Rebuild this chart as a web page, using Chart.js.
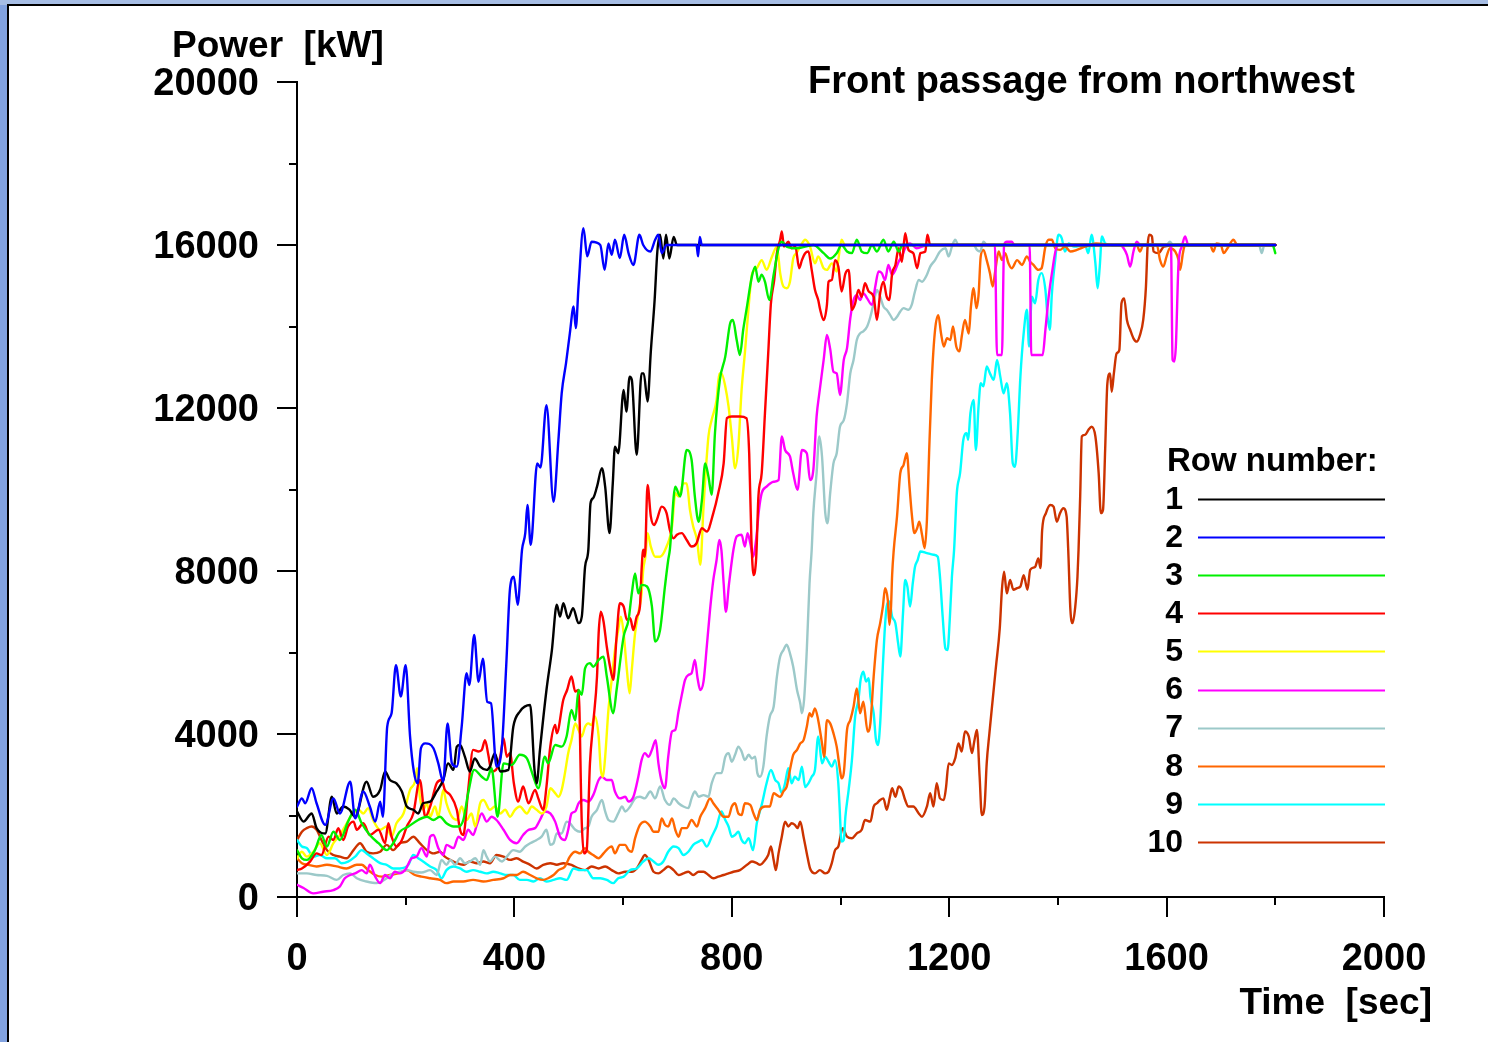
<!DOCTYPE html>
<html>
<head>
<meta charset="utf-8">
<title>Front passage from northwest</title>
<script src="https://cdn.jsdelivr.net/npm/chart.js@4.4.1/dist/chart.umd.min.js"></script>
<style>
  html, body { margin: 0; padding: 0; }
  body { width: 1488px; height: 1042px; background: #82a2df; position: relative; overflow: hidden; }
  #topStrip { position: absolute; left: 0; top: 0; width: 1488px; height: 5px; background: #a6bde4; }
  #sheet { position: absolute; left: 7px; top: 4px; right: 0; bottom: 0; background: #fff;
           border-left: 2px solid #000; border-top: 2px solid #000; }
  #chart { position: absolute; left: 0; top: 0; }
</style>
</head>
<body>
<div id="topStrip"></div>
<div id="sheet"></div>
<canvas id="chart" width="1488" height="1042"></canvas>
<script>
// Row data: [time (sec), power (kW)]
const row1 = [[0,2100],[12,1850],[27,2050],[36,1690],[52,1560],[64,2460],[73,2050],[85,2220],[96,2150],[107,1970],[128,2830],[140,2460],[153,2630],[162,3080],[171,2870],[183,2790],[193,2590],[202,2220],[214,2140],[223,2050],[232,2300],[245,2340],[257,2590],[269,2870],[278,3280],[288,3120],[294,3690],[300,3730],[309,3440],[318,3080],[327,3400],[337,3200],[349,3120],[355,3200],[364,3530],[374,3080],[389,3120],[398,4180],[410,4550],[429,4710],[437,3120],[441,2790],[447,3610],[459,5080],[469,6060],[478,7170],[484,6880],[490,7210],[499,6840],[508,7090],[518,6720],[524,6880],[530,8100],[536,8520],[540,9660],[545,9790],[552,10070],[561,10520],[567,10070],[575,8930],[581,10150],[585,11050],[591,10890],[601,12440],[606,11910],[612,12770],[616,12690],[625,10850],[634,12850],[638,12850],[645,12160],[651,13390],[658,14650],[663,15840],[668,16250],[674,15670],[679,16250],[685,15670],[693,16200],[699,16000],[1800,16000]];
const row2 = [[0,2220],[9,2420],[15,2300],[27,2670],[36,2300],[52,1770],[67,2420],[79,2050],[98,2830],[107,1930],[122,2590],[134,2220],[144,1850],[153,2340],[158,1970],[166,4180],[174,4510],[182,5690],[191,4920],[200,5690],[208,3940],[215,3080],[222,2790],[228,3650],[236,3770],[251,3650],[260,3280],[269,2830],[277,4260],[285,3280],[294,3200],[303,4180],[312,5490],[317,5200],[326,6430],[334,5280],[342,5850],[350,4790],[357,4750],[367,3200],[377,3690],[385,5690],[392,7580],[399,7860],[406,7170],[414,8520],[420,8930],[424,9620],[430,8640],[442,10640],[448,10540],[459,12070],[472,9700],[481,11220],[487,12360],[495,13100],[502,13830],[509,14490],[513,13960],[518,14980],[527,16410],[534,15720],[542,16080],[558,16000],[566,15390],[573,16040],[579,15760],[585,16130],[594,15680],[602,16250],[610,15800],[619,15510],[630,16250],[637,16000],[650,15840],[659,16130],[665,16250],[671,15800],[680,16000],[735,16000],[738,15720],[741,16200],[745,16000],[1800,16000]];
const row3 = [[0,1150],[9,950],[18,910],[33,1150],[45,1520],[55,1240],[67,1600],[79,1400],[94,1850],[107,2140],[119,1810],[134,1520],[150,1320],[165,1150],[177,1320],[189,1600],[205,1730],[223,1890],[239,1970],[251,1890],[263,1970],[275,1810],[288,1730],[297,1730],[306,1890],[315,2550],[326,3120],[340,2950],[349,2870],[358,3160],[369,1970],[380,3280],[395,3240],[410,3490],[423,3400],[435,2950],[444,2670],[456,3440],[462,3280],[475,3730],[487,3690],[496,3940],[505,4590],[512,4340],[518,5080],[524,4960],[530,5610],[539,5740],[545,5650],[555,5820],[564,5900],[570,5410],[582,4510],[588,5080],[601,6390],[610,6800],[616,7450],[622,7940],[628,7450],[634,7660],[644,7620],[653,7130],[659,6270],[668,6550],[677,7620],[683,8270],[686,8520],[696,10070],[705,9830],[717,10970],[726,10730],[732,9830],[739,9210],[745,9740],[751,10640],[757,10320],[763,9870],[769,11380],[778,12690],[788,13260],[797,14080],[802,14160],[809,13670],[815,13300],[821,13920],[827,14410],[837,15230],[843,15470],[849,15100],[855,15270],[861,15100],[869,14650],[877,15270],[886,15920],[892,16080],[901,15960],[920,15920],[950,16000],[969,15800],[981,15670],[993,15800],[1002,16000],[1012,15840],[1021,15800],[1030,16130],[1039,15840],[1049,15800],[1058,16000],[1067,15840],[1079,16130],[1088,15840],[1098,16080],[1107,15840],[1114,16000],[1795,16000],[1800,15800]];
const row4 = [[0,660],[9,700],[24,870],[36,1070],[45,1030],[58,1480],[67,1400],[76,1690],[85,1400],[94,1730],[104,1850],[110,1650],[122,1810],[134,1520],[150,1650],[162,1320],[168,1810],[174,1480],[183,1240],[193,1400],[202,1730],[214,2050],[226,2870],[236,1970],[245,2220],[257,2790],[266,2870],[272,2630],[282,2500],[294,2140],[300,1650],[306,1520],[315,2630],[324,3610],[334,3570],[340,3610],[346,3850],[352,3490],[358,3080],[366,3120],[374,3440],[380,3900],[386,3440],[392,3530],[399,2790],[407,2340],[416,2710],[426,2300],[438,2630],[444,2420],[453,2140],[459,2710],[466,3690],[475,4220],[478,4020],[490,4840],[497,5080],[505,5410],[512,5040],[518,5080],[524,1810],[528,1070],[533,1150],[539,3280],[545,4260],[552,5410],[555,6470],[559,7000],[564,6760],[570,6140],[576,5650],[582,5330],[588,6390],[594,7210],[601,7130],[607,6800],[613,6840],[619,6550],[625,6880],[631,7130],[634,8030],[637,8520],[640,8350],[645,10110],[651,9340],[657,9130],[662,9250],[671,9580],[680,9420],[686,9010],[693,8800],[699,8890],[708,8930],[717,8760],[726,8600],[735,8680],[745,9050],[754,8970],[766,9420],[775,9910],[785,10640],[791,11750],[800,11790],[815,11790],[827,11750],[832,10890],[836,8800],[840,7900],[845,8350],[849,9830],[855,10400],[861,11870],[867,13340],[872,14570],[878,15140],[883,15800],[889,16130],[892,16330],[896,15960],[904,16080],[910,15920],[917,15960],[924,15430],[929,15630],[935,15800],[941,15840],[947,15390],[953,14900],[959,14650],[962,14450],[969,14160],[975,14530],[978,15100],[984,15140],[990,15630],[996,15470],[1002,14860],[1009,15300],[1015,15390],[1021,14410],[1027,14570],[1033,14900],[1039,14730],[1045,15060],[1052,14860],[1061,14730],[1067,14160],[1073,14820],[1079,15100],[1085,14730],[1090,14650],[1095,15300],[1101,15510],[1107,15920],[1113,15590],[1119,16290],[1125,15880],[1134,15800],[1141,15430],[1147,15800],[1156,15840],[1160,16250],[1165,16000],[1800,16000]];
const row5 = [[0,950],[9,1110],[18,990],[30,1110],[42,1320],[55,1030],[67,1320],[79,1520],[88,1730],[101,2010],[113,2140],[122,2050],[131,2180],[140,1890],[153,1650],[165,1730],[174,1480],[183,1810],[196,2050],[208,2630],[217,2830],[221,3160],[226,2460],[232,2140],[239,2300],[245,1970],[254,2220],[260,1970],[269,2630],[275,2300],[285,1970],[294,1890],[303,2220],[312,1890],[321,2050],[328,1730],[337,2300],[343,2380],[355,2140],[364,2220],[374,2050],[383,2140],[392,1970],[401,2140],[410,2220],[423,2050],[432,2220],[441,2140],[450,2050],[459,2220],[466,2670],[475,2550],[481,2460],[487,2630],[493,3040],[499,3530],[505,3850],[512,4260],[518,4100],[524,3940],[530,4180],[536,4260],[542,4220],[548,4430],[555,3940],[559,3120],[563,2950],[567,3440],[573,4590],[579,5330],[585,6060],[591,6550],[596,6880],[601,6470],[607,5570],[612,5000],[616,5570],[622,6470],[628,6960],[634,7450],[637,8030],[641,8350],[645,8930],[651,8600],[659,8350],[668,8350],[680,8600],[690,9090],[696,9910],[702,9830],[711,10150],[717,10150],[723,9500],[729,9090],[736,8760],[742,8150],[748,9580],[757,11300],[763,11710],[772,12200],[777,12850],[781,12850],[788,12530],[794,12040],[800,11300],[806,10520],[812,11050],[818,12440],[824,13340],[831,14490],[837,15270],[846,15430],[855,15630],[864,15390],[874,15720],[883,15960],[889,15310],[895,14980],[901,14940],[907,15100],[913,15670],[919,15800],[926,15960],[935,16130],[944,15960],[953,15550],[959,15720],[969,15430],[975,15390],[984,15550],[993,15350],[996,15630],[1002,16130],[1008,16000],[1800,16000]];
const row6 = [[0,300],[12,220],[30,90],[48,130],[67,170],[79,260],[88,460],[98,540],[107,580],[119,660],[128,580],[134,790],[144,500],[153,340],[162,540],[171,460],[180,620],[189,580],[199,660],[211,950],[220,990],[229,1200],[239,990],[245,1480],[251,1520],[260,1200],[269,1030],[275,1280],[288,1200],[297,1480],[306,1400],[315,1650],[324,1520],[331,1770],[340,2050],[349,1850],[358,1970],[367,1890],[380,1650],[392,1400],[404,1320],[416,1520],[426,1650],[438,1690],[447,1890],[456,2100],[466,2050],[475,1850],[484,1480],[493,1400],[499,1650],[505,2050],[512,2100],[518,2300],[527,2380],[536,2340],[545,2500],[555,2870],[561,2950],[570,2870],[579,2870],[585,2590],[594,2420],[604,2460],[610,2340],[619,2460],[628,2950],[634,3360],[640,3530],[647,3440],[653,3610],[660,3850],[665,3280],[671,2830],[677,2670],[683,3440],[690,4060],[696,4100],[702,4550],[708,4960],[714,5330],[720,5450],[726,5490],[732,5820],[737,5370],[742,5080],[748,5290],[754,6150],[760,7050],[766,7780],[772,8270],[777,8760],[781,8500],[785,7700],[789,7000],[795,7700],[803,8520],[809,8850],[818,8890],[824,8600],[829,8930],[834,8680],[839,8350],[845,8800],[850,9500],[855,9910],[864,10070],[877,10190],[886,10230],[892,11300],[898,10970],[907,10810],[913,10400],[921,9990],[929,10970],[938,10890],[944,10230],[950,10480],[956,11790],[961,12360],[969,13180],[975,13790],[981,13450],[987,12890],[993,12850],[999,12320],[1006,13180],[1012,13470],[1018,14200],[1024,14650],[1030,14770],[1036,14650],[1042,14820],[1049,14690],[1058,14530],[1064,14980],[1070,15350],[1076,15310],[1082,15140],[1088,15510],[1095,15270],[1101,15390],[1107,15590],[1113,15720],[1119,15920],[1128,16040],[1140,15920],[1160,16000],[1284,16000],[1288,13300],[1297,13300],[1301,16000],[1306,16080],[1315,16080],[1320,16000],[1348,16000],[1351,13300],[1372,13300],[1377,13920],[1383,14730],[1389,15310],[1398,15960],[1405,16000],[1515,16000],[1521,15920],[1527,15760],[1533,15470],[1539,15840],[1545,16080],[1552,16000],[1608,16000],[1611,13180],[1614,13140],[1617,13510],[1622,15550],[1628,15960],[1634,16210],[1640,16000],[1800,16000]];
const row7 = [[0,580],[18,580],[36,540],[55,520],[73,420],[85,540],[98,580],[110,460],[128,380],[147,340],[156,380],[165,460],[177,580],[189,620],[202,660],[214,620],[229,600],[245,660],[257,540],[266,910],[275,790],[282,910],[291,790],[300,950],[309,830],[318,870],[328,950],[337,790],[343,1150],[349,990],[355,870],[364,990],[377,870],[386,990],[398,1150],[410,1110],[420,1240],[429,1320],[441,1400],[450,1480],[459,1650],[466,1280],[472,1320],[478,1560],[487,1560],[496,1850],[502,1810],[512,1650],[521,1600],[530,1690],[536,1730],[542,1970],[552,2140],[561,2380],[567,2100],[573,1890],[582,1850],[591,2050],[598,2220],[604,2100],[613,2220],[622,2420],[631,2460],[640,2420],[650,2590],[659,2420],[668,2710],[677,2380],[686,2260],[693,2420],[702,2300],[711,2220],[720,2180],[726,2420],[732,2590],[739,2460],[748,2500],[757,2460],[763,2790],[772,3040],[781,3040],[788,3440],[794,3530],[800,3320],[806,3490],[812,3690],[818,3570],[824,3360],[831,3490],[837,3400],[843,3440],[847,3040],[852,2950],[858,3200],[864,3940],[870,4430],[877,4670],[883,5410],[889,5900],[895,6060],[901,6190],[907,5980],[913,5650],[920,5080],[926,4750],[929,4510],[933,4840],[938,6060],[943,7700],[947,8520],[950,9420],[956,10400],[961,11300],[966,10810],[972,9420],[976,9170],[981,9910],[987,10640],[993,10890],[999,11540],[1006,11700],[1012,12120],[1018,12850],[1024,13180],[1030,13670],[1036,13830],[1042,13880],[1049,14000],[1055,14240],[1061,14570],[1067,14900],[1073,14730],[1079,14490],[1085,14410],[1091,14290],[1098,14160],[1104,14240],[1110,14370],[1116,14450],[1125,14410],[1131,14530],[1137,14860],[1144,15140],[1150,15100],[1159,15270],[1165,15470],[1174,15630],[1183,15840],[1193,15920],[1199,15720],[1205,15960],[1211,16130],[1217,16000],[1245,16000],[1251,15880],[1257,15840],[1263,16080],[1270,16000],[1600,16000],[1606,16080],[1612,16000],[1770,16000],[1775,15800],[1780,16000],[1800,16000]];
const row8 = [[0,950],[9,830],[21,790],[36,750],[55,790],[73,750],[91,700],[110,790],[119,790],[131,660],[144,540],[156,500],[171,540],[186,580],[202,660],[217,540],[229,500],[245,460],[263,420],[275,340],[288,380],[306,380],[324,420],[343,380],[361,420],[380,460],[392,540],[404,540],[416,620],[429,540],[441,460],[453,420],[462,460],[472,540],[481,660],[493,750],[502,990],[512,1110],[521,1070],[530,1200],[536,1110],[545,1030],[555,950],[564,1070],[573,1200],[579,1240],[585,1070],[594,1280],[604,1280],[610,1150],[616,1110],[622,1440],[631,1770],[640,1850],[650,1730],[656,1600],[665,1600],[671,1930],[677,1770],[683,1730],[690,1930],[696,1650],[702,1480],[708,1690],[717,1690],[726,1890],[736,1730],[742,1970],[751,2180],[760,2420],[766,2300],[775,2140],[785,1970],[794,1970],[800,2220],[806,2300],[812,2050],[818,2010],[824,2300],[834,2260],[840,2050],[846,1890],[852,2140],[861,2220],[870,2220],[877,2550],[883,2500],[889,2460],[895,2590],[901,2710],[907,3120],[913,3490],[920,3610],[926,3770],[932,3850],[938,4180],[943,4510],[947,4430],[953,4630],[959,4340],[966,3770],[970,3440],[975,4340],[981,4260],[987,4020],[993,3690],[999,3120],[1002,2910],[1006,3040],[1012,4100],[1018,4340],[1024,4670],[1030,5120],[1036,4510],[1042,4790],[1050,4060],[1055,4260],[1061,5410],[1067,6310],[1073,6720],[1078,7130],[1082,7580],[1087,7290],[1090,6680],[1093,7130],[1095,7900],[1098,8520],[1104,9340],[1110,10400],[1116,10600],[1122,10890],[1127,10070],[1131,9420],[1136,8930],[1141,9050],[1145,9210],[1150,8890],[1155,8560],[1159,9250],[1163,10890],[1168,12690],[1174,13920],[1180,14280],[1185,13830],[1190,13510],[1196,13710],[1202,13670],[1207,14000],[1213,13510],[1219,13390],[1223,13750],[1229,14160],[1236,13830],[1240,14490],[1245,14940],[1250,14450],[1254,14770],[1258,15720],[1263,15880],[1269,15630],[1275,15310],[1280,14980],[1285,15390],[1291,15840],[1297,15630],[1303,15800],[1309,15550],[1315,15430],[1325,15630],[1334,15510],[1343,15720],[1349,15590],[1355,15510],[1364,15390],[1370,15430],[1377,15960],[1383,16130],[1389,16130],[1395,15920],[1404,15880],[1413,15960],[1423,15840],[1435,15880],[1450,15960],[1470,16040],[1500,16000],[1545,16000],[1551,15840],[1557,16000],[1582,16000],[1588,15630],[1594,15470],[1600,15720],[1606,15920],[1616,15840],[1622,15630],[1625,15390],[1630,15800],[1634,16000],[1680,16000],[1686,15840],[1692,16040],[1700,16000],[1705,15800],[1712,15920],[1723,16130],[1730,16000],[1800,16000]];
const row9 = [[0,1400],[9,1240],[18,1200],[30,990],[42,1030],[55,950],[70,950],[82,830],[94,870],[107,990],[119,1150],[128,1070],[140,950],[153,830],[165,790],[177,700],[189,700],[205,790],[214,1030],[223,950],[232,870],[245,750],[257,660],[266,460],[275,660],[288,750],[300,700],[312,620],[324,660],[337,620],[349,580],[361,620],[374,580],[386,540],[398,540],[410,420],[423,420],[435,380],[447,460],[459,380],[472,420],[484,460],[496,420],[509,700],[521,660],[533,660],[545,460],[558,460],[570,420],[582,340],[591,460],[601,500],[613,660],[625,700],[637,870],[647,950],[656,870],[665,790],[674,870],[683,1110],[693,1240],[702,1200],[711,1030],[720,1110],[729,1280],[739,1360],[745,1400],[754,1240],[763,1480],[772,1730],[781,2100],[788,1890],[794,1730],[800,1480],[806,1520],[812,1600],[818,1400],[824,1320],[831,1440],[839,1150],[846,1810],[855,2260],[864,2790],[872,3120],[880,2870],[886,2790],[892,2550],[898,2790],[904,3160],[910,2790],[916,2950],[923,2870],[929,3200],[935,2700],[941,2790],[947,2950],[953,3120],[959,3940],[966,3280],[972,3440],[978,3320],[984,3200],[990,3360],[996,2790],[998,2300],[1002,1360],[1006,1400],[1009,1970],[1015,2630],[1021,3360],[1027,4430],[1033,4840],[1037,5330],[1042,5530],[1047,5290],[1052,5370],[1055,4920],[1061,4510],[1065,3890],[1069,3730],[1073,4260],[1077,5410],[1081,6470],[1085,7130],[1090,7250],[1095,6880],[1101,6720],[1106,6230],[1110,5900],[1115,6960],[1119,7780],[1123,7620],[1128,7130],[1133,7700],[1137,8100],[1142,8270],[1147,8480],[1159,8440],[1171,8400],[1179,8350],[1183,7860],[1188,6880],[1193,6100],[1197,6060],[1201,6800],[1205,7860],[1209,8520],[1214,9910],[1220,10400],[1226,11220],[1232,11380],[1235,11220],[1239,11870],[1245,12200],[1249,10970],[1254,12040],[1258,12610],[1263,12530],[1269,13020],[1275,12850],[1282,12690],[1288,13180],[1294,12770],[1300,12360],[1306,12610],[1312,11870],[1317,10640],[1321,10560],[1326,11380],[1331,12770],[1337,13830],[1343,14410],[1347,13510],[1352,14730],[1358,14570],[1364,15140],[1370,15310],[1377,14900],[1381,14240],[1385,13920],[1389,14820],[1395,15630],[1401,16250],[1407,16170],[1413,15840],[1420,16040],[1430,15960],[1450,16000],[1456,15800],[1462,16250],[1469,15550],[1473,14940],[1477,15470],[1481,16210],[1487,16040],[1500,16000],[1800,16000]];
const row10 = [[0,1400],[9,1600],[18,1690],[27,1730],[36,1650],[45,1400],[55,1150],[67,1030],[79,990],[91,950],[104,1150],[116,1320],[128,1110],[140,1070],[153,1110],[165,1280],[177,1150],[189,1320],[202,1360],[214,1480],[226,1320],[239,1150],[251,1070],[263,1110],[272,990],[282,910],[294,830],[306,790],[318,870],[331,830],[343,870],[355,830],[367,1030],[380,990],[392,910],[404,950],[416,870],[429,790],[441,700],[453,790],[466,830],[478,790],[490,830],[505,790],[518,700],[530,660],[542,750],[555,700],[567,750],[579,660],[591,580],[604,620],[616,620],[625,700],[634,910],[640,1030],[647,910],[656,620],[665,580],[674,660],[683,750],[693,660],[702,540],[711,580],[720,620],[729,540],[739,620],[748,620],[757,540],[766,460],[775,500],[785,540],[794,580],[803,620],[815,660],[828,790],[837,870],[846,830],[852,790],[859,870],[867,1030],[872,1240],[877,910],[881,660],[886,1070],[892,1480],[898,1850],[904,1730],[910,1810],[916,1770],[921,1690],[926,1850],[932,1480],[938,1070],[944,700],[953,580],[962,660],[972,580],[978,620],[984,830],[990,1150],[996,1240],[1004,1690],[1012,1480],[1021,1440],[1030,1560],[1039,1650],[1045,1890],[1055,1850],[1061,2220],[1067,2300],[1073,2380],[1079,2420],[1085,2140],[1091,2460],[1095,2670],[1101,2460],[1107,2710],[1113,2630],[1119,2380],[1125,2220],[1134,2220],[1144,2050],[1150,1970],[1159,2220],[1165,2550],[1171,2220],[1177,2790],[1183,2420],[1190,2380],[1194,2670],[1199,3280],[1205,3240],[1211,3400],[1217,3770],[1223,3570],[1229,4060],[1236,3940],[1242,3530],[1246,3810],[1251,4100],[1256,2950],[1260,2010],[1265,2220],[1269,3280],[1274,4020],[1280,4840],[1286,5650],[1293,6590],[1297,7540],[1301,7980],[1306,7450],[1312,7780],[1318,7540],[1325,7580],[1331,7620],[1337,7900],[1344,7540],[1349,8030],[1358,8100],[1364,8310],[1368,8070],[1371,9000],[1378,9420],[1386,9620],[1392,9580],[1398,9210],[1404,9420],[1410,9540],[1416,9340],[1419,8520],[1423,7050],[1427,6720],[1432,7130],[1436,7860],[1438,8520],[1441,9830],[1444,11300],[1450,11340],[1456,11460],[1462,11540],[1469,11300],[1475,10400],[1479,9420],[1483,9500],[1487,11000],[1491,12600],[1496,12850],[1499,12400],[1503,12850],[1508,13340],[1513,13420],[1517,14570],[1522,14690],[1527,14160],[1533,13920],[1539,13710],[1545,13630],[1551,13790],[1557,14160],[1562,14980],[1565,15960],[1568,16250],[1573,16210],[1576,15840],[1585,15800],[1595,15960],[1620,16000],[1800,16000]];

const rowSeries = [row1, row2, row3, row4, row5, row6, row7, row8, row9, row10];
const rowLabels = ['1', '2', '3', '4', '5', '6', '7', '8', '9', '10'];
const rowColors = ['#000000', '#0000ff', '#00f000', '#ff0000', '#ffff00', '#ff00ff', '#9cc9c9', '#ff6600', '#00ffff', '#cc3300'];

const xMajorTicks = [0, 400, 800, 1200, 1600, 2000];
const xMinorTicks = [200, 600, 1000, 1400, 1800];
const yMajorTicks = [0, 4000, 8000, 12000, 16000, 20000];
const yMinorTicks = [2000, 6000, 10000, 14000, 18000];

const chartTitle = 'Front passage from northwest';
const yAxisTitle = 'Power  [kW]';
const xAxisTitle = 'Time  [sec]';
const legendTitle = 'Row number:';

const FONT = '"Liberation Sans", Arial, Helvetica, sans-serif';

// minor tick marks (Chart.js has none for linear scales)
const minorTicksPlugin = {
    id: 'minorTicks',
    afterDraw(chart) {
        const { ctx, scales: { x, y }, chartArea } = chart;
        ctx.save();
        ctx.strokeStyle = '#000';
        ctx.lineWidth = 2;
        ctx.beginPath();
        xMinorTicks.forEach(v => {
            const px = Math.round(x.getPixelForValue(v));
            ctx.moveTo(px, chartArea.bottom);
            ctx.lineTo(px, chartArea.bottom + 8);
        });
        yMinorTicks.forEach(v => {
            const py = Math.round(y.getPixelForValue(v));
            ctx.moveTo(chartArea.left, py);
            ctx.lineTo(chartArea.left - 8, py);
        });
        ctx.stroke();
        ctx.restore();
    }
};

// titles and the "Row number" legend block
const textPlugin = {
    id: 'texts',
    afterDraw(chart) {
        const { ctx, chartArea } = chart;
        ctx.save();
        ctx.fillStyle = '#000';
        ctx.textBaseline = 'middle';

        ctx.font = 'bold 37px ' + FONT;
        ctx.textAlign = 'left';
        ctx.fillText(yAxisTitle, 172, chartArea.top - 35);

        ctx.font = 'bold 38px ' + FONT;
        ctx.fillText(chartTitle, 808, chartArea.top + 1);

        ctx.font = 'bold 37px ' + FONT;
        ctx.textAlign = 'right';
        ctx.fillText(xAxisTitle, chartArea.right + 48, chartArea.bottom + 107);

        // legend
        ctx.textAlign = 'left';
        ctx.font = 'bold 33px ' + FONT;
        ctx.fillText(legendTitle, 1167, 462);
        ctx.font = 'bold 32px ' + FONT;
        rowLabels.forEach((lab, i) => {
            const ly = 499 + i * 38.1;
            ctx.textAlign = 'right';
            ctx.fillStyle = '#000';
            ctx.fillText(lab, 1183, ly + 1);
            ctx.strokeStyle = rowColors[i];
            ctx.lineWidth = 2;
            ctx.beginPath();
            ctx.moveTo(1198, Math.round(ly) + 0.5);
            ctx.lineTo(1385, Math.round(ly) + 0.5);
            ctx.stroke();
        });
        ctx.restore();
    }
};

const datasets = rowSeries.map((rows, i) => ({
    label: rowLabels[i],
    data: rows.map(p => ({ x: p[0], y: p[1] })),
    borderColor: rowColors[i],
    backgroundColor: rowColors[i],
    borderWidth: 2.4,
    borderJoinStyle: 'round',
    borderCapStyle: 'round',
    pointRadius: 0,
    cubicInterpolationMode: 'monotone',
    fill: false,
    order: i === 1 ? -1 : i   // blue stays on top of the 16000 plateau
}));

const tickFont = { family: FONT, size: 38, weight: 'bold' };

new Chart(document.getElementById('chart').getContext('2d'), {
    type: 'line',
    data: { datasets },
    options: {
        responsive: false,
        animation: false,
        layout: { padding: { left: 0, top: 82, right: 104, bottom: 0 } },
        scales: {
            x: {
                type: 'linear',
                min: 0,
                max: 2000,
                afterBuildTicks: (scale) => { scale.ticks = xMajorTicks.map(v => ({ value: v })); },
                afterFit: (scale) => { scale.height = 145; },
                border: { display: true, color: '#000', width: 2 },
                grid: { drawOnChartArea: false, drawTicks: true, tickLength: 20, color: '#000', lineWidth: 2 },
                ticks: { color: '#000', font: tickFont, padding: 20, maxRotation: 0, autoSkip: false,
                         callback: (v) => String(v) }
            },
            y: {
                type: 'linear',
                min: 0,
                max: 20000,
                afterBuildTicks: (scale) => { scale.ticks = yMajorTicks.map(v => ({ value: v })); },
                afterFit: (scale) => { scale.width = 297; },
                border: { display: true, color: '#000', width: 2 },
                grid: { drawOnChartArea: false, drawTicks: true, tickLength: 20, color: '#000', lineWidth: 2 },
                ticks: { color: '#000', font: tickFont, padding: 18, labelOffset: 3, autoSkip: false,
                         callback: (v) => String(v) }
            }
        },
        plugins: {
            legend: { display: false },
            tooltip: { enabled: false },
            title: { display: false }
        }
    },
    plugins: [minorTicksPlugin, textPlugin]
});
</script>
</body>
</html>
